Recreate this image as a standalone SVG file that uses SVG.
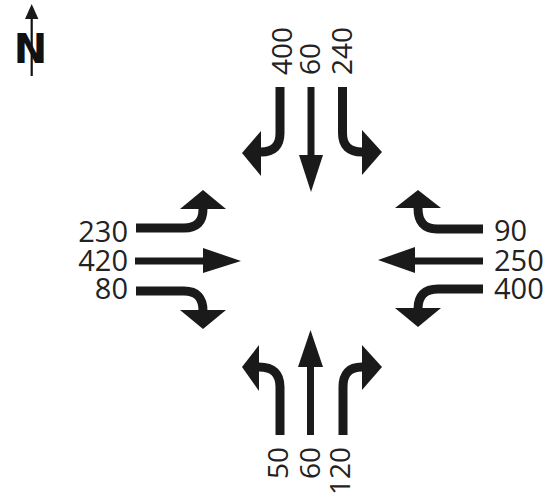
<svg xmlns="http://www.w3.org/2000/svg" width="552" height="497" viewBox="0 0 552 497">
<style>
.turn{fill:none;stroke:#1a1a1a;stroke-width:9;stroke-linecap:butt}
.thru{fill:none;stroke:#1a1a1a;stroke-width:7;stroke-linecap:butt}
.head{fill:#1a1a1a}
.lbl{font-family:"Open Sans","DejaVu Sans",sans-serif;fill:#222}
.h{font-size:29px}
.v{font-size:28px}
</style>
<rect width="552" height="497" fill="#fff"/>
<g id="north-symbol">
<line x1="31.7" y1="16" x2="31.7" y2="76" stroke="#111" stroke-width="2.2"/>
<polygon class="head" points="25,19 38.4,19 31.7,4"/>
<text x="30.5" y="63" text-anchor="middle" font-family="'DejaVu Sans',sans-serif" font-weight="bold" font-size="40" fill="#111">N</text>
</g>
<g id="connectors">
<g id="north-approach">
<path class="turn" d="M280,87 V133 Q280,152 261,152"/>
<polygon class="head" points="261,131 261,176 242,153"/>
<path class="thru" d="M311,87 V156"/>
<polygon class="head" points="299,155 323,155 311,192"/>
<path class="turn" d="M342.5,87 V133 Q342.5,152 362,152"/>
<polygon class="head" points="362,130 362,175 382,152"/>
</g>
<g id="west-approach">
<path class="turn" d="M136,228 H184 Q203,228 203,209"/>
<polygon class="head" points="180,209 226,209 203,190"/>
<path class="thru" d="M135,261 H204"/>
<polygon class="head" points="203,248 203,273 241,261"/>
<path class="turn" d="M136,291 H184 Q203,291 203,311"/>
<polygon class="head" points="180,310 226,310 203,329"/>
</g>
<g id="east-approach">
<path class="turn" d="M483,229 H437 Q418,229 418,208"/>
<polygon class="head" points="395,208 441,208 418,190"/>
<path class="thru" d="M483,261 H414"/>
<polygon class="head" points="415,247 415,273 378,260"/>
<path class="turn" d="M483,289 H438 Q418,289 418,309"/>
<polygon class="head" points="395,308 441,308 418,327"/>
</g>
<g id="south-approach">
<path class="turn" d="M280,435 V387 Q280,367 259,367"/>
<polygon class="head" points="259,345 259,391 242,367"/>
<path class="thru" d="M310.5,435 V366"/>
<polygon class="head" points="298,367 323,367 310.5,330"/>
<path class="turn" d="M343,435 V387 Q343,367 362,367"/>
<polygon class="head" points="362,345 362,390 382,367"/>
</g>
</g>
<g id="labels-north">
<text class="lbl v" transform="translate(292,75) rotate(-90)">400</text>
<text class="lbl v" transform="translate(320,75) rotate(-90)">60</text>
<text class="lbl v" transform="translate(352,75) rotate(-90)">240</text>
</g>
<g id="labels-west">
<text class="lbl h" x="128" y="242" text-anchor="end">230</text>
<text class="lbl h" x="128" y="271" text-anchor="end">420</text>
<text class="lbl h" x="128" y="299" text-anchor="end">80</text>
</g>
<g id="labels-east">
<text class="lbl h" x="494" y="241">90</text>
<text class="lbl h" x="494" y="271">250</text>
<text class="lbl h" x="494" y="299">400</text>
</g>
<g id="labels-south">
<text class="lbl v" text-anchor="end" transform="translate(288,447) rotate(-90)">50</text>
<text class="lbl v" text-anchor="end" transform="translate(320,447) rotate(-90)">60</text>
<text class="lbl v" text-anchor="end" transform="translate(350,447) rotate(-90)">120</text>
</g>
</svg>
